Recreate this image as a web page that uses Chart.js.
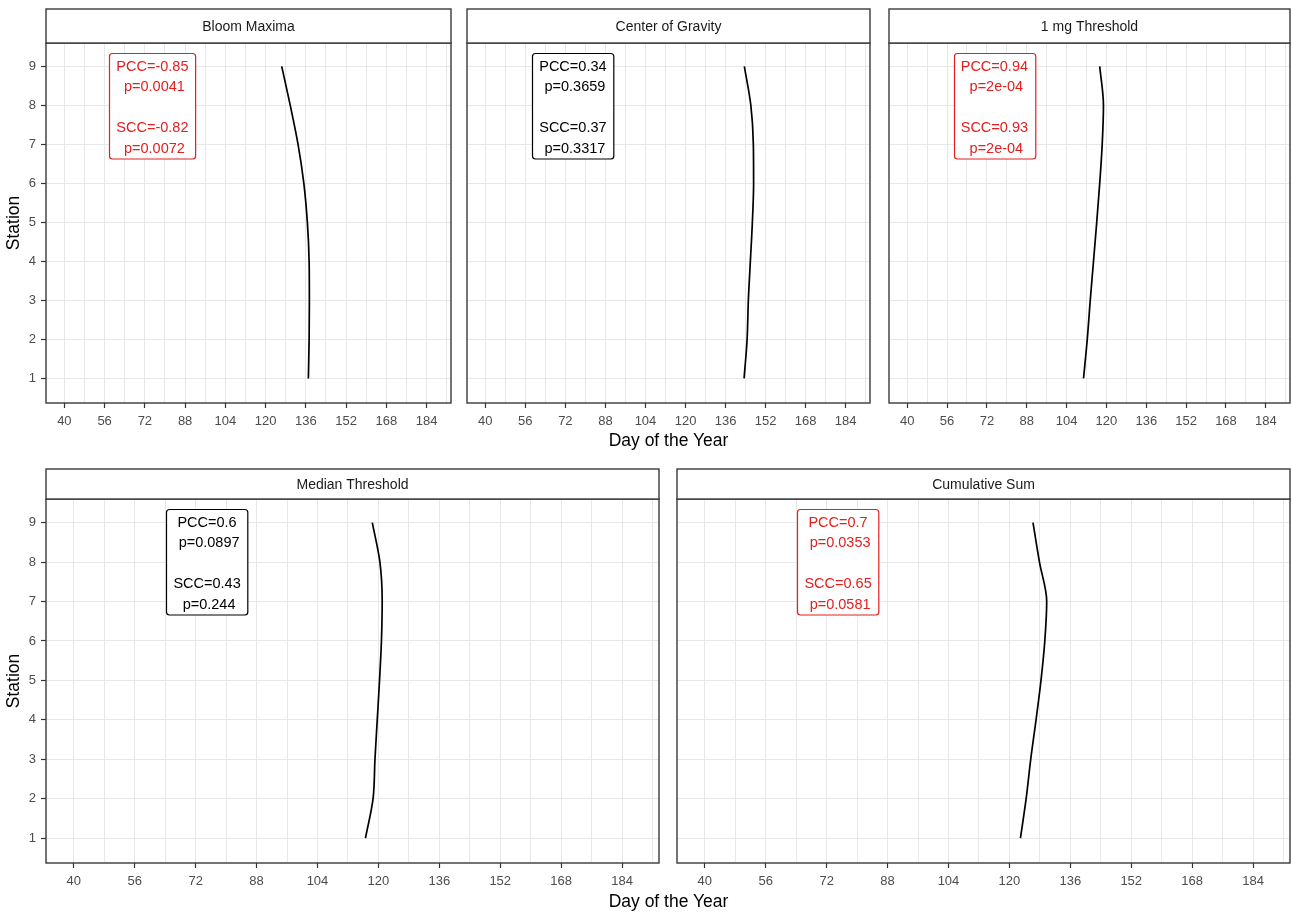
<!DOCTYPE html>
<html>
<head>
<meta charset="utf-8">
<script src="https://cdn.jsdelivr.net/npm/chart.js@4.4.1/dist/chart.umd.min.js"></script>
<style>
  html, body { margin: 0; padding: 0; background: #fff; width: 1292px; height: 912px; overflow: hidden;
    font-family: "Liberation Sans", Arial, sans-serif; }
  canvas { position: absolute; }
  .xtitle { position: absolute; width: 300px; margin-left: -150px; text-align: center;
    font-size: 17.5px; line-height: 20px; color: #000; }
</style>
</head>
<body>
<canvas id="p0" width="453" height="425" style="left:0px;top:8px"></canvas>
<canvas id="p1" width="407" height="425" style="left:465px;top:8px"></canvas>
<canvas id="p2" width="405" height="425" style="left:887px;top:8px"></canvas>
<canvas id="p3" width="661" height="425" style="left:0px;top:468px"></canvas>
<canvas id="p4" width="617" height="425" style="left:675px;top:468px"></canvas>
<div class="xtitle" style="left:668.5px;top:430px">Day of the Year</div>
<div class="xtitle" style="left:668.5px;top:891px">Day of the Year</div>
<script>
// Stations along the transect (y axis)
const stations = [1, 2, 3, 4, 5, 6, 7, 8, 9];

// Smoothed day-of-year of each bloom metric, per station 1..9
const bloomMaxima     = [137.0, 137.3, 137.4, 137.3, 136.6, 135.2, 132.9, 129.8, 126.4];
const centerOfGravity = [143.4, 144.6, 145.1, 145.9, 146.7, 147.2, 147.1, 146.1, 143.5];
const oneMgThreshold  = [110.8, 112.3, 113.5, 114.8, 116.1, 117.3, 118.3, 118.8, 117.3];
const medianThreshold = [116.6, 118.6, 119.1, 119.7, 120.3, 120.8, 121.0, 120.4, 118.4];
const cumulativeSum   = [122.9, 124.4, 125.6, 127.0, 128.3, 129.3, 129.8, 127.9, 126.2];

const panelTitles = ['Bloom Maxima', 'Center of Gravity', '1 mg Threshold', 'Median Threshold', 'Cumulative Sum'];

// Correlation statistics shown in each panel
const pccValues = ['-0.85', '0.34', '0.94', '0.6', '0.7'];
const pccPValues = ['0.0041', '0.3659', '2e-04', '0.0897', '0.0353'];
const sccValues = ['-0.82', '0.37', '0.93', '0.43', '0.65'];
const sccPValues = ['0.0072', '0.3317', '2e-04', '0.244', '0.0581'];

// Axis ticks
const dayLabels = [40, 56, 72, 88, 104, 120, 136, 152, 168, 184];
const dayGrid = [40, 48, 56, 64, 72, 80, 88, 96, 104, 112, 120, 128, 136, 144, 152, 160, 168, 176, 184, 192];
const stationTicks = [1, 2, 3, 4, 5, 6, 7, 8, 9];

const seriesList = [bloomMaxima, centerOfGravity, oneMgThreshold, medianThreshold, cumulativeSum];

// Canvas layout of each facet
const layouts = [
  { id: 'p0', pad: { left: 0, right: 2, top: 35, bottom: 0 }, yWidth: 46, strip: 34, yLabels: true },
  { id: 'p1', pad: { left: 2, right: 2, top: 35, bottom: 0 }, yWidth: 0, strip: 34, yLabels: false },
  { id: 'p2', pad: { left: 2, right: 2, top: 35, bottom: 0 }, yWidth: 0, strip: 34, yLabels: false },
  { id: 'p3', pad: { left: 0, right: 2, top: 31, bottom: 0 }, yWidth: 46, strip: 30, yLabels: true },
  { id: 'p4', pad: { left: 2, right: 2, top: 31, bottom: 0 }, yWidth: 0, strip: 30, yLabels: false }
];

const FONT = '"Liberation Sans", Arial, sans-serif';
Chart.defaults.font.family = FONT;

// Draws the facet strip, the panel frame and the statistics label
const facetDecor = {
  id: 'facetDecor',
  afterDatasetsDraw(chart, args, opts) {
    const { ctx, chartArea: { left, top, right, bottom } } = chart;
    const xs = chart.scales.x, ys = chart.scales.y;
    ctx.save();

    // statistics label
    const lines = opts.lines;
    ctx.font = '14.5px ' + FONT;
    const lineH = 20.5, padX = 7, padY = 1.5;
    let w = 0;
    lines.forEach(t => { w = Math.max(w, ctx.measureText(t).width); });
    const bw = w + padX * 2, bh = lines.length * lineH + padY * 2;
    const cx = xs.getPixelForValue(opts.at[0]);
    const cy = ys.getPixelForValue(opts.at[1]);
    const bx = Math.round(cx - bw / 2) + 0.5, by = Math.round(cy - bh / 2) + 0.5;
    ctx.beginPath();
    ctx.roundRect(bx, by, bw, bh, 3);
    ctx.fillStyle = '#fff';
    ctx.fill();
    ctx.lineWidth = 1.2;
    ctx.strokeStyle = opts.color;
    ctx.stroke();
    ctx.fillStyle = opts.color;
    ctx.textAlign = 'center';
    ctx.textBaseline = 'middle';
    lines.forEach((t, i) => {
      ctx.fillText(t, cx, by + padY + lineH * (i + 0.5) + 1.5);
    });

    // panel frame
    ctx.lineWidth = 1.4;
    ctx.strokeStyle = '#3a3a3a';
    ctx.strokeRect(left, top, right - left, bottom - top);

    // strip
    const sh = opts.strip;
    ctx.fillStyle = '#fff';
    ctx.fillRect(left, top - sh, right - left, sh);
    ctx.strokeRect(left, top - sh, right - left, sh);
    ctx.fillStyle = '#1a1a1a';
    ctx.font = '14px ' + FONT;
    ctx.textAlign = 'center';
    ctx.textBaseline = 'middle';
    ctx.fillText(opts.title, (left + right) / 2, top - sh / 2 + 1);
    ctx.restore();
  }
};

layouts.forEach((lay, k) => {
  const series = seriesList[k];
  const significant = parseFloat(pccPValues[k]) < 0.05;
  const labelColor = significant ? '#e3201f' : '#000000';
  const labelLines = [
    'PCC=' + pccValues[k],
    ' p=' + pccPValues[k],
    '',
    'SCC=' + sccValues[k],
    ' p=' + sccPValues[k]
  ];

  new Chart(document.getElementById(lay.id), {
    type: 'scatter',
    data: {
      datasets: [{
        data: stations.map((s, i) => ({ x: series[i], y: s })),
        showLine: true,
        borderColor: '#000',
        borderWidth: 1.7,
        pointRadius: 0,
        cubicInterpolationMode: 'monotone',
        fill: false
      }]
    },
    options: {
      indexAxis: 'y',
      responsive: false,
      animation: false,
      events: [],
      layout: { padding: lay.pad },
      plugins: {
        legend: { display: false },
        tooltip: { enabled: false },
        facetDecor: {
          title: panelTitles[k],
          strip: lay.strip,
          lines: labelLines,
          color: labelColor,
          at: [75, 8]
        }
      },
      scales: {
        x: {
          type: 'linear',
          min: 32.7,
          max: 193.7,
          afterBuildTicks: s => { s.ticks = dayGrid.map(v => ({ value: v })); },
          afterFit: s => { s.height = 30; },
          border: { display: false },
          grid: {
            color: '#e8e8e8',
            lineWidth: 1,
            tickLength: 5,
            tickWidth: 1.2,
            tickColor: c => (c.tick && dayLabels.includes(c.tick.value)) ? '#333' : 'rgba(0,0,0,0)'
          },
          ticks: {
            autoSkip: false,
            maxRotation: 0,
            padding: 6,
            color: '#4d4d4d',
            font: { size: 13 },
            callback: v => dayLabels.includes(v) ? String(v) : ''
          }
        },
        y: {
          type: 'linear',
          min: 0.37,
          max: 9.6,
          afterBuildTicks: s => { s.ticks = stationTicks.map(v => ({ value: v })); },
          afterFit: s => { s.width = lay.yWidth; },
          border: { display: false },
          grid: {
            color: '#e8e8e8',
            lineWidth: 1,
            drawTicks: lay.yLabels,
            tickLength: 5,
            tickWidth: 1.2,
            tickColor: '#333'
          },
          ticks: {
            display: lay.yLabels,
            padding: 5,
            color: '#4d4d4d',
            font: { size: 13 }
          },
          title: {
            display: lay.yLabels,
            text: 'Station',
            color: '#000',
            font: { size: 17.5 },
            padding: { top: 4, bottom: 4 }
          }
        }
      }
    },
    plugins: [facetDecor]
  });
});
</script>
</body>
</html>
